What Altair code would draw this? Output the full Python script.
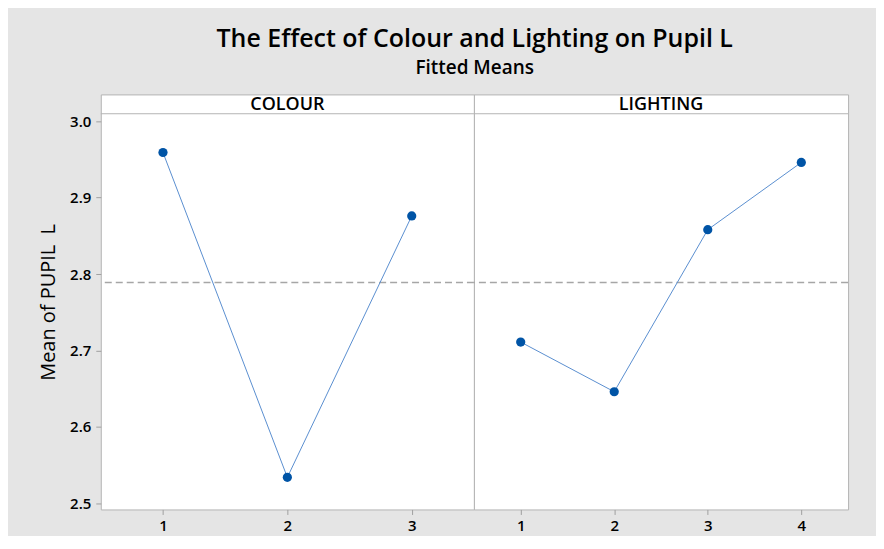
import altair as alt
import pandas as pd

# ---- data ----
panel_names = ["COLOUR", "LIGHTING"]
colour_levels = [1, 2, 3]
colour_means = [2.959, 2.534, 2.876]
lighting_levels = [1, 2, 3, 4]
lighting_means = [2.711, 2.646, 2.858, 2.946]
grand_mean = [2.789]
y_ticks = [2.5, 2.6, 2.7, 2.8, 2.9, 3.0]

# ---- styling ----
FONT = "Open Sans"
POINT = "#0054a6"
LINE = "#5a8fd0"
FRAME = "#b4b4b4"
BG = "#e5e5e5"
Y_DOMAIN = [2.492, 3.035]
HEADER_LINE = 3.0097
HEADER_MID = 3.0215
Y_TITLE = "Mean of PUPIL\u00a0\u00a0L"
H = 416


def yscale():
    return alt.Scale(domain=Y_DOMAIN, zero=False, nice=False)


def panel(name, levels, means, width, show_y):
    df = pd.DataFrame({"level": levels, "mean": means})
    if show_y:
        yaxis = alt.Axis(values=y_ticks, format=".1f", title=Y_TITLE)
    else:
        yaxis = None
    x = alt.X(
        "level:O",
        scale=alt.Scale(type="point", padding=0.5),
        axis=alt.Axis(title=None, labelAngle=0),
    )

    def y():
        return alt.Y("mean:Q", scale=yscale(), axis=yaxis, title=Y_TITLE)

    base = alt.Chart(df)
    line = base.mark_line(color=LINE, strokeWidth=1).encode(x=x, y=y())
    pts = base.mark_circle(color=POINT, size=85, opacity=1).encode(x=x, y=y())
    ref = (
        alt.Chart(pd.DataFrame({"mean": grand_mean}))
        .mark_rule(color="#a6a6a6", strokeDash=[7, 4], strokeWidth=1.5)
        .encode(y=y())
    )
    hdr_line = (
        alt.Chart(pd.DataFrame({"mean": [HEADER_LINE]}))
        .mark_rule(color=FRAME, strokeWidth=1)
        .encode(y=y())
    )
    hdr_text = (
        alt.Chart(pd.DataFrame({"panel": [name], "mean": [HEADER_MID]}))
        .mark_text(font=FONT, fontSize=18, fontWeight=600, color="black",
                   baseline="middle", align="center")
        .encode(text="panel:N", x=alt.value(width / 2), y=y())
    )
    return alt.layer(ref, hdr_line, line, pts, hdr_text).properties(width=width, height=H)


left = panel(panel_names[0], colour_levels, colour_means, 374, True)
right = panel(panel_names[1], lighting_levels, lighting_means, 375, False)

chart = (
    alt.hconcat(left, right, spacing=0, bounds="flush")
    .resolve_scale(x="independent")
    .properties(
        title=alt.TitleParams(
            text="The Effect of Colour and Lighting on Pupil L",
            subtitle="Fitted Means",
            font=FONT,
            fontSize=25,
            fontWeight=600,
            color="black",
            subtitleFont=FONT,
            subtitleFontSize=19,
            subtitleFontWeight=600,
            subtitleColor="black",
            subtitlePadding=7,
            anchor="middle",
            offset=16,
            dx=31,
        ),
        background=BG,
        padding={"left": 30, "top": 18, "right": 26, "bottom": 1},
    )
    .configure_view(stroke=FRAME, strokeWidth=1, fill="white")
    .configure_axis(
        labelFont=FONT,
        labelFontSize=15,
        labelFontWeight=600,
        labelColor="black",
        titleFont=FONT,
        titleFontSize=20,
        titleFontWeight="normal",
        titleColor="black",
        tickColor="#a0a0a0",
        tickSize=5,
        domain=False,
        grid=False,
    )
    .configure_axisY(labelPadding=5, titlePadding=11)
    .configure_axisX(labelPadding=4)
)

chart.save("out.html", embed_options={"renderer": "svg", "actions": False})
